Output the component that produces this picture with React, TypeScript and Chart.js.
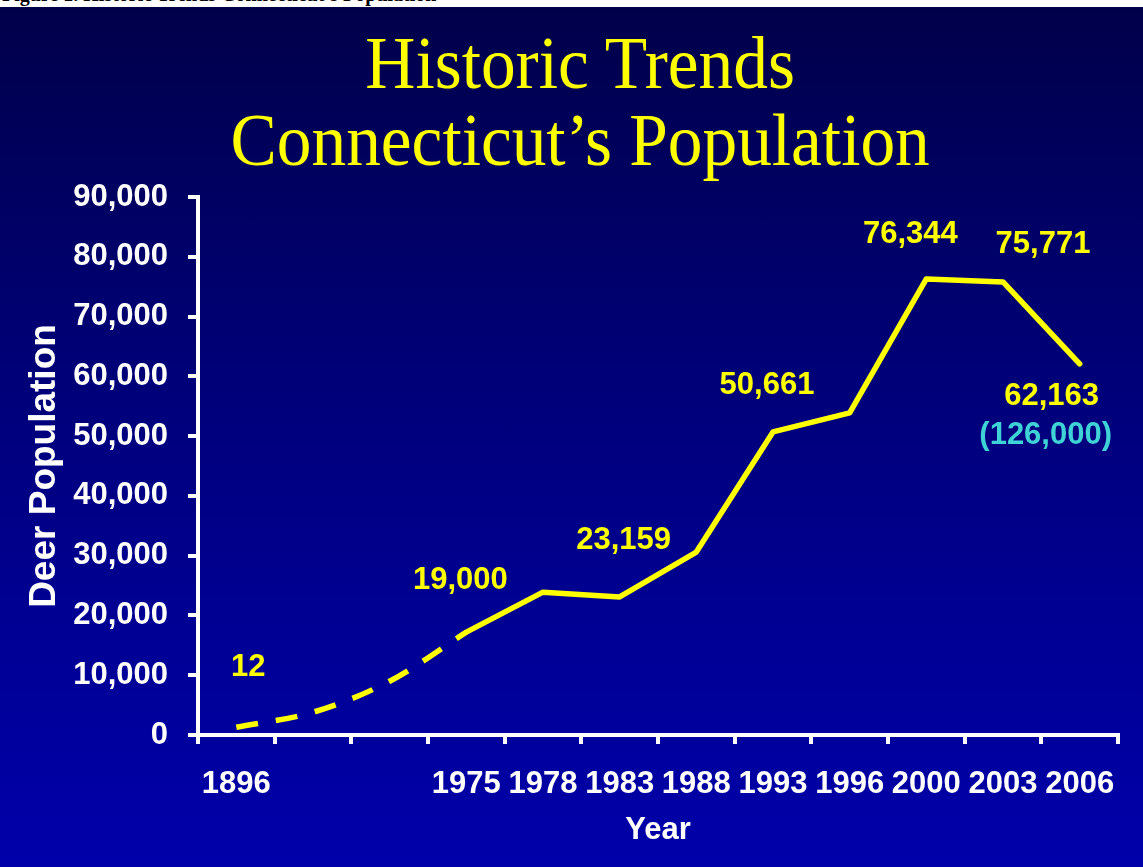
import React, { useEffect, useRef } from 'react';
import { Chart, registerables } from 'chart.js';

Chart.register(...registerables);

// ---- data ----
const yearLabels = ['1896', '', '', '1975', '1978', '1983', '1988', '1993', '1996', '2000', '2003', '2006'];
const estimatedTrend = [1300, 3800, 9000, 17200, null, null, null, null, null, null, null, null];
const recordedPopulation = [null, null, null, 17200, 23900, 23100, 30600, 50700, 53900, 76300, 75800, 62100];
const pointLabels = ['12', '', '', '19,000', '', '23,159', '', '50,661', '', '76,344', '75,771', '62,163'];
const alternateEstimate = '(126,000)';
const alternateIndex = 11;
const yMin = 0;
const yMax = 90000;
const yStep = 10000;

// ---- styling (pixel offsets of annotation text from its point) ----
const labelOffsets: Array<[number, number]> = [
  [12, -60], [0, 0], [0, 0], [-6, -52], [0, 0], [4, -56], [0, 0], [-6, -46], [0, 0], [-16, -44], [40, -37], [-28, 33],
];
const alternateOffset: [number, number] = [-34, 72];

const SANS = '"Liberation Sans", Arial, sans-serif';
const YELLOW = '#ffff00';

const labelPlugin = {
  id: 'pointTextLabels',
  afterDatasetsDraw(chart: any) {
    const ctx = chart.ctx;
    const xs = chart.scales.x;
    const ys = chart.scales.y;
    ctx.save();
    ctx.font = `bold 31px ${SANS}`;
    ctx.textAlign = 'center';
    ctx.textBaseline = 'middle';
    pointLabels.forEach((t, i) => {
      if (!t) return;
      const v = recordedPopulation[i] ?? estimatedTrend[i];
      if (v == null) return;
      const x = xs.getPixelForValue(i) + labelOffsets[i][0];
      const y = ys.getPixelForValue(v) + labelOffsets[i][1];
      ctx.fillStyle = YELLOW;
      ctx.fillText(t, x, y);
    });
    const av = recordedPopulation[alternateIndex] as number;
    ctx.fillStyle = '#3fd2d6';
    ctx.fillText(
      alternateEstimate,
      xs.getPixelForValue(alternateIndex) + alternateOffset[0],
      ys.getPixelForValue(av) + alternateOffset[1]
    );
    ctx.restore();
  },
};

export default function App() {
  const canvasRef = useRef<HTMLCanvasElement | null>(null);

  useEffect(() => {
    document.body.style.margin = '0';
    const canvas = canvasRef.current;
    if (!canvas) return;
    const chart = new Chart(canvas, {
      type: 'line',
      data: {
        labels: yearLabels,
        datasets: [
          {
            label: 'Estimated',
            data: estimatedTrend,
            borderColor: YELLOW,
            borderWidth: 5.5,
            borderDash: [22, 18],
            borderCapStyle: 'butt',
            cubicInterpolationMode: 'monotone',
            pointRadius: 0,
            fill: false,
            spanGaps: false,
          },
          {
            label: 'Deer Population',
            data: recordedPopulation,
            borderColor: YELLOW,
            borderWidth: 5.5,
            borderJoinStyle: 'round',
            borderCapStyle: 'round',
            tension: 0,
            pointRadius: 0,
            fill: false,
            spanGaps: false,
          },
        ],
      },
      options: {
        responsive: false,
        animation: false,
        devicePixelRatio: 1,
        layout: { padding: { left: 0, right: 25, top: 190, bottom: 20 } },
        plugins: {
          legend: { display: false },
          title: { display: false },
          tooltip: { enabled: false },
        },
        scales: {
          x: {
            type: 'category',
            offset: true,
            grid: {
              offset: true,
              drawOnChartArea: false,
              drawTicks: true,
              tickLength: 9,
              color: '#ffffff',
              lineWidth: 4,
            },
            border: { display: true, color: '#ffffff', width: 4 },
            ticks: {
              color: '#ffffff',
              font: { family: SANS, size: 31, weight: 'bold' },
              padding: 22,
              autoSkip: false,
              maxRotation: 0,
              minRotation: 0,
            },
            title: {
              display: true,
              text: 'Year',
              color: '#ffffff',
              font: { family: SANS, size: 31, weight: 'bold' },
              padding: { top: 0, bottom: -2 },
            },
            afterFit: (s: any) => {
              s.height = 112;
            },
          },
          y: {
            min: yMin,
            max: yMax,
            grid: {
              drawOnChartArea: false,
              drawTicks: true,
              tickLength: 10,
              color: '#ffffff',
              lineWidth: 4,
            },
            border: { display: true, color: '#ffffff', width: 4 },
            ticks: {
              stepSize: yStep,
              color: '#ffffff',
              font: { family: SANS, size: 31, weight: 'bold' },
              padding: 20,
              callback: (v: any) => Number(v).toLocaleString('en-US'),
            },
            title: {
              display: true,
              text: 'Deer Population',
              color: '#ffffff',
              font: { family: SANS, size: 37, weight: 'bold' },
              padding: { top: 23, bottom: 0 },
            },
            afterFit: (s: any) => {
              s.width = 198;
            },
          },
        },
      },
      plugins: [labelPlugin],
    } as any);
    return () => chart.destroy();
  }, []);

  return (
    <div style={{ position: 'relative', width: 1143, height: 867, overflow: 'hidden', background: '#ffffff' }}>
      <div
        style={{
          position: 'absolute',
          left: 0,
          top: 0,
          width: 1143,
          height: 7,
          overflow: 'hidden',
        }}
      >
        <div
          style={{
            position: 'absolute',
            left: 2,
            top: -16,
            whiteSpace: 'nowrap',
            font: 'bold 20px "Liberation Serif", serif',
            lineHeight: '20px',
            color: '#000',
          }}
        >
          Figure 1. Historic Trends Connecticut’s Population
        </div>
      </div>
      <div
        style={{
          position: 'absolute',
          left: 0,
          top: 7,
          width: 1143,
          height: 860,
          background: 'linear-gradient(to bottom, #00004a 0%, #000070 35%, #000092 70%, #0000aa 100%)',
        }}
      >
        <canvas ref={canvasRef} width={1143} height={860} style={{ display: 'block', width: 1143, height: 860 }} />
        <div
          style={{
            position: 'absolute',
            left: 18,
            top: 18,
            width: 1124,
            textAlign: 'center',
            fontFamily: '"Liberation Serif", "Times New Roman", serif',
            fontSize: 73,
            lineHeight: '77px',
            color: YELLOW,
            whiteSpace: 'nowrap',
            transform: 'scaleX(0.95)',
            transformOrigin: '565px 0',
          }}
        >
          <div>Historic Trends</div>
          <div>Connecticut’s Population</div>
        </div>
      </div>
    </div>
  );
}
